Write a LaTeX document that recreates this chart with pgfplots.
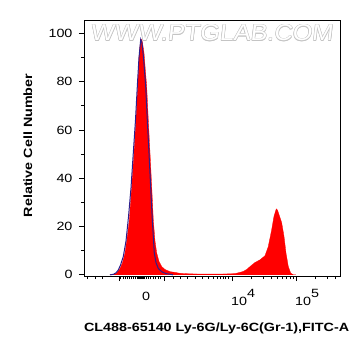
\documentclass[border=0pt]{standalone}
\usepackage{pgfplots}
\pgfplotsset{compat=1.18}
\usepackage{fontspec}
\setmainfont{Liberation Sans}
\usepackage{graphicx}
\definecolor{blueline}{RGB}{45,30,140}
\definecolor{wm}{RGB}{196,196,196}

\begin{document}
\begin{tikzpicture}
\useasboundingbox (-84bp,-80bp) rectangle (279bp,276bp);
\foreach \dx/\dy in {-0.5/0,0.5/0,0/0.5,0/-0.5,-0.35/0.35,0.35/0.35,-0.35/-0.35,0.35/-0.35}{
  \node[text=wm, font=\fontsize{23}{23}\selectfont, xslant=0.12, inner sep=0pt] at (128.5bp+\dx bp,243bp+\dy bp) {\scalebox{1.1}[1]{WWW.PTGLAB.COM}};
}
\node[text=white, font=\fontsize{23}{23}\selectfont, xslant=0.12, inner sep=0pt] at (128.5bp,243bp) {\scalebox{1.1}[1]{WWW.PTGLAB.COM}};
\begin{axis}[
  at={(0,0)}, anchor=south west,
  width=256bp, height=256bp, scale only axis,
  xmin=1.6797, xmax=5.6797, ymin=-0.5, ymax=105.5,
  axis line style={line width=0.8pt},
  tick align=outside,
  xtick pos=left, ytick pos=left,
  every tick/.style={black, line width=0.7pt},
  major tick length=5bp, minor tick length=3bp,
  /pgf/number format/assume math mode=true,
  xtick={2.227,2.930,4,5},
  xticklabels={,,{\scalebox{1.2}[1]{10\raisebox{0.65em}{4}}},{\scalebox{1.2}[1]{10\raisebox{0.65em}{5}}}},
  xticklabel style={anchor=north west, xshift=-4.8bp, yshift=-5bp},
  extra x ticks={2.609},
  extra x tick labels={\scalebox{1.2}[1]{0\vphantom{\raisebox{0.65em}{4}}}},
  extra x tick style={major tick length=0pt},
  minor xtick={1.731,1.852,1.966,2.253,2.289,2.325,2.356,2.388,2.419,2.45,2.481,2.519,2.527,...,2.623,2.648,2.684,2.722,2.7625,2.800,2.836,2.878,3.070,3.180,3.294,3.414,3.528,3.622,3.700,3.7625,3.816,3.856,3.894,3.934,4.301,4.477,4.602,4.699,4.778,4.845,4.903,4.954,5.301,5.477,5.602},
  ytick={0,20,...,100},
  minor ytick={10,30,50,70,90},
  yticklabel={\scalebox{1.2}[1]{\pgfmathprintnumber{\tick}}},
  yticklabel style={xshift=-3bp},
  ticklabel style={font=\fontsize{12}{12}\selectfont},
  xlabel={\scalebox{1.2}[1]{\bfseries CL488-65140 Ly-6G/Ly-6C(Gr-1),FITC-A}},
  xlabel style={at={(axis description cs:0.518,-0.203)}, anchor=center, font=\fontsize{12}{12}\selectfont},
  ylabel={\scalebox{1.2}[1]{\bfseries Relative Cell Number}},
  ylabel style={at={(axis description cs:-0.219,0.51)}, anchor=center, font=\fontsize{12}{12}\selectfont},
]
\addplot[fill=red, draw=red, line width=0.3pt] coordinates {
(2.086,0) (2.164,0.3) (2.195,0.8) (2.242,2.5) (2.281,5) (2.320,9) (2.352,15) (2.388,22.8)
(2.425,36.6) (2.461,50.5) (2.492,64.3) (2.519,78.1) (2.544,92) (2.5625,96.5) (2.575,97.5)
(2.589,96.8) (2.617,92) (2.6375,85) (2.659,78.1) (2.684,64.3) (2.711,50.5) (2.7375,36.6)
(2.7625,22.8) (2.789,14) (2.816,9) (2.852,5.5) (2.894,3.4) (2.945,2.2) (3.023,1.3) (3.102,1.0)
(3.180,0.6) (3.336,0.4) (3.492,0.3) (3.805,0.3) (3.961,0.4) (4.039,0.5) (4.117,1.0) (4.169,1.4)
(4.227,2.3) (4.273,3.4) (4.352,5.1) (4.430,6.2) (4.508,7.9) (4.559,11.7) (4.6125,18.7)
(4.648,24.2) (4.684,27.3) (4.703,26.8) (4.727,24.9) (4.769,21.5) (4.805,15.9) (4.836,9.0)
(4.872,3.4) (4.909,0.7) (4.95,0) (4.992,0)
} \closedcycle;
\addplot[color=blueline, line width=1pt] coordinates {
(2.086,0) (2.1375,0.2) (2.180,0.8) (2.216,2) (2.25,4) (2.294,7.6) (2.336,14) (2.375,24)
(2.414,36) (2.45,50.5) (2.484,64) (2.5125,78) (2.539,90) (2.566,97.5) (2.586,96) (2.609,90)
(2.644,78) (2.669,64) (2.695,50.5) (2.722,36) (2.747,22.8) (2.778,9) (2.805,5) (2.841,2.6)
(2.898,1.2) (2.961,0.5) (3.070,0)
};
\end{axis}
\end{tikzpicture}
\end{document}
